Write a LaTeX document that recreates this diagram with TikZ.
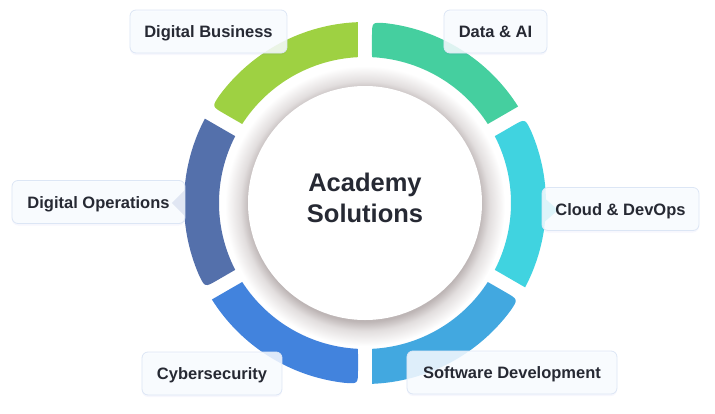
\documentclass[tikz,border=0pt]{standalone}
\usepackage{fontspec}
\setmainfont{Liberation Sans}
\usetikzlibrary{shadows}

\definecolor{cBiz}{HTML}{9ED142}
\definecolor{cData}{HTML}{45CF9F}
\definecolor{cCloud}{HTML}{40D3E0}
\definecolor{cDev}{HTML}{42A8E0}
\definecolor{cSec}{HTML}{4283DD}
\definecolor{cOps}{HTML}{5470AB}
\definecolor{ink}{HTML}{262933}
\definecolor{shadowc}{HTML}{BDB5B5}
\definecolor{shadowmid}{HTML}{E2DEDE}
\definecolor{boxline}{HTML}{DCE6F5}
\definecolor{boxfill}{HTML}{F8FBFF}

\pgfdeclareradialshading{discshadow}{\pgfpoint{0bp}{0bp}}{color(0bp)=(shadowc); color(20.6bp)=(shadowc); color(22.3bp)=(shadowmid); color(25bp)=(white); color(50bp)=(white)}

% ring segment: #1 centre angle, #2 colour (rounded at the ccw end)
\newcommand{\ringseg}[2]{%
  \fill[#2] ({#1-27.25}:146) -- ({#1-27.78}:181)
    arc[start angle={#1-27.78}, end angle={#1+23.5}, radius=181]
    .. controls ({#1+27.78}:181) .. ({#1+27.6}:167)
    -- ({#1+27.25}:146)
    arc[start angle={#1+27.25}, end angle={#1-27.25}, radius=146] -- cycle;}

\begin{document}
\begin{tikzpicture}[x=1pt,y=1pt,
  lbl/.style={draw=boxline,line width=0.8pt,fill=boxfill,fill opacity=0.86,text opacity=1,
    rounded corners=6pt,minimum height=43pt,text height=12pt,text depth=0pt,text=ink,
    font=\fontsize{16.5}{20}\selectfont\bfseries,
    drop shadow={shadow xshift=0pt,shadow yshift=-2pt,opacity=0.04,fill=blue!60!gray}}]
\useasboundingbox (-365,-210) rectangle (350,203);
\shade[shading=discshadow] (0,-3) circle (140);
\fill[white] (0,0) circle (117);
\ringseg{60}{cData}
\ringseg{120}{cBiz}
\ringseg{180}{cOps}
\ringseg{240}{cSec}
\ringseg{300}{cDev}
\ringseg{0}{cCloud}
\fill[cOps] (-178,15) -- (-193,0) -- (-178,-15) -- cycle;
\fill[cCloud] (176,8) -- (193,-7) -- (176,-22) -- cycle;
\node[lbl,minimum width=157pt] (biz) at (-156.5,171.5) {Digital Business};
\node[lbl,minimum width=103pt] (data) at (130.5,171.5) {Data \& AI};
\node[lbl,minimum width=173pt] (ops) at (-266.5,1) {Digital Operations};
\node[lbl,minimum width=157pt] (cloud) at (255.5,-6) {Cloud \& DevOps};
\node[lbl,minimum width=140pt] (sec) at (-153,-170.5) {Cybersecurity};
\node[lbl,minimum width=210pt] (dev) at (147,-169.5) {Software Development};
\node[text=ink,align=center,font=\fontsize{25.5}{31}\selectfont\bfseries] (hub) at (0,5) {Academy\\Solutions};
\end{tikzpicture}
\end{document}
